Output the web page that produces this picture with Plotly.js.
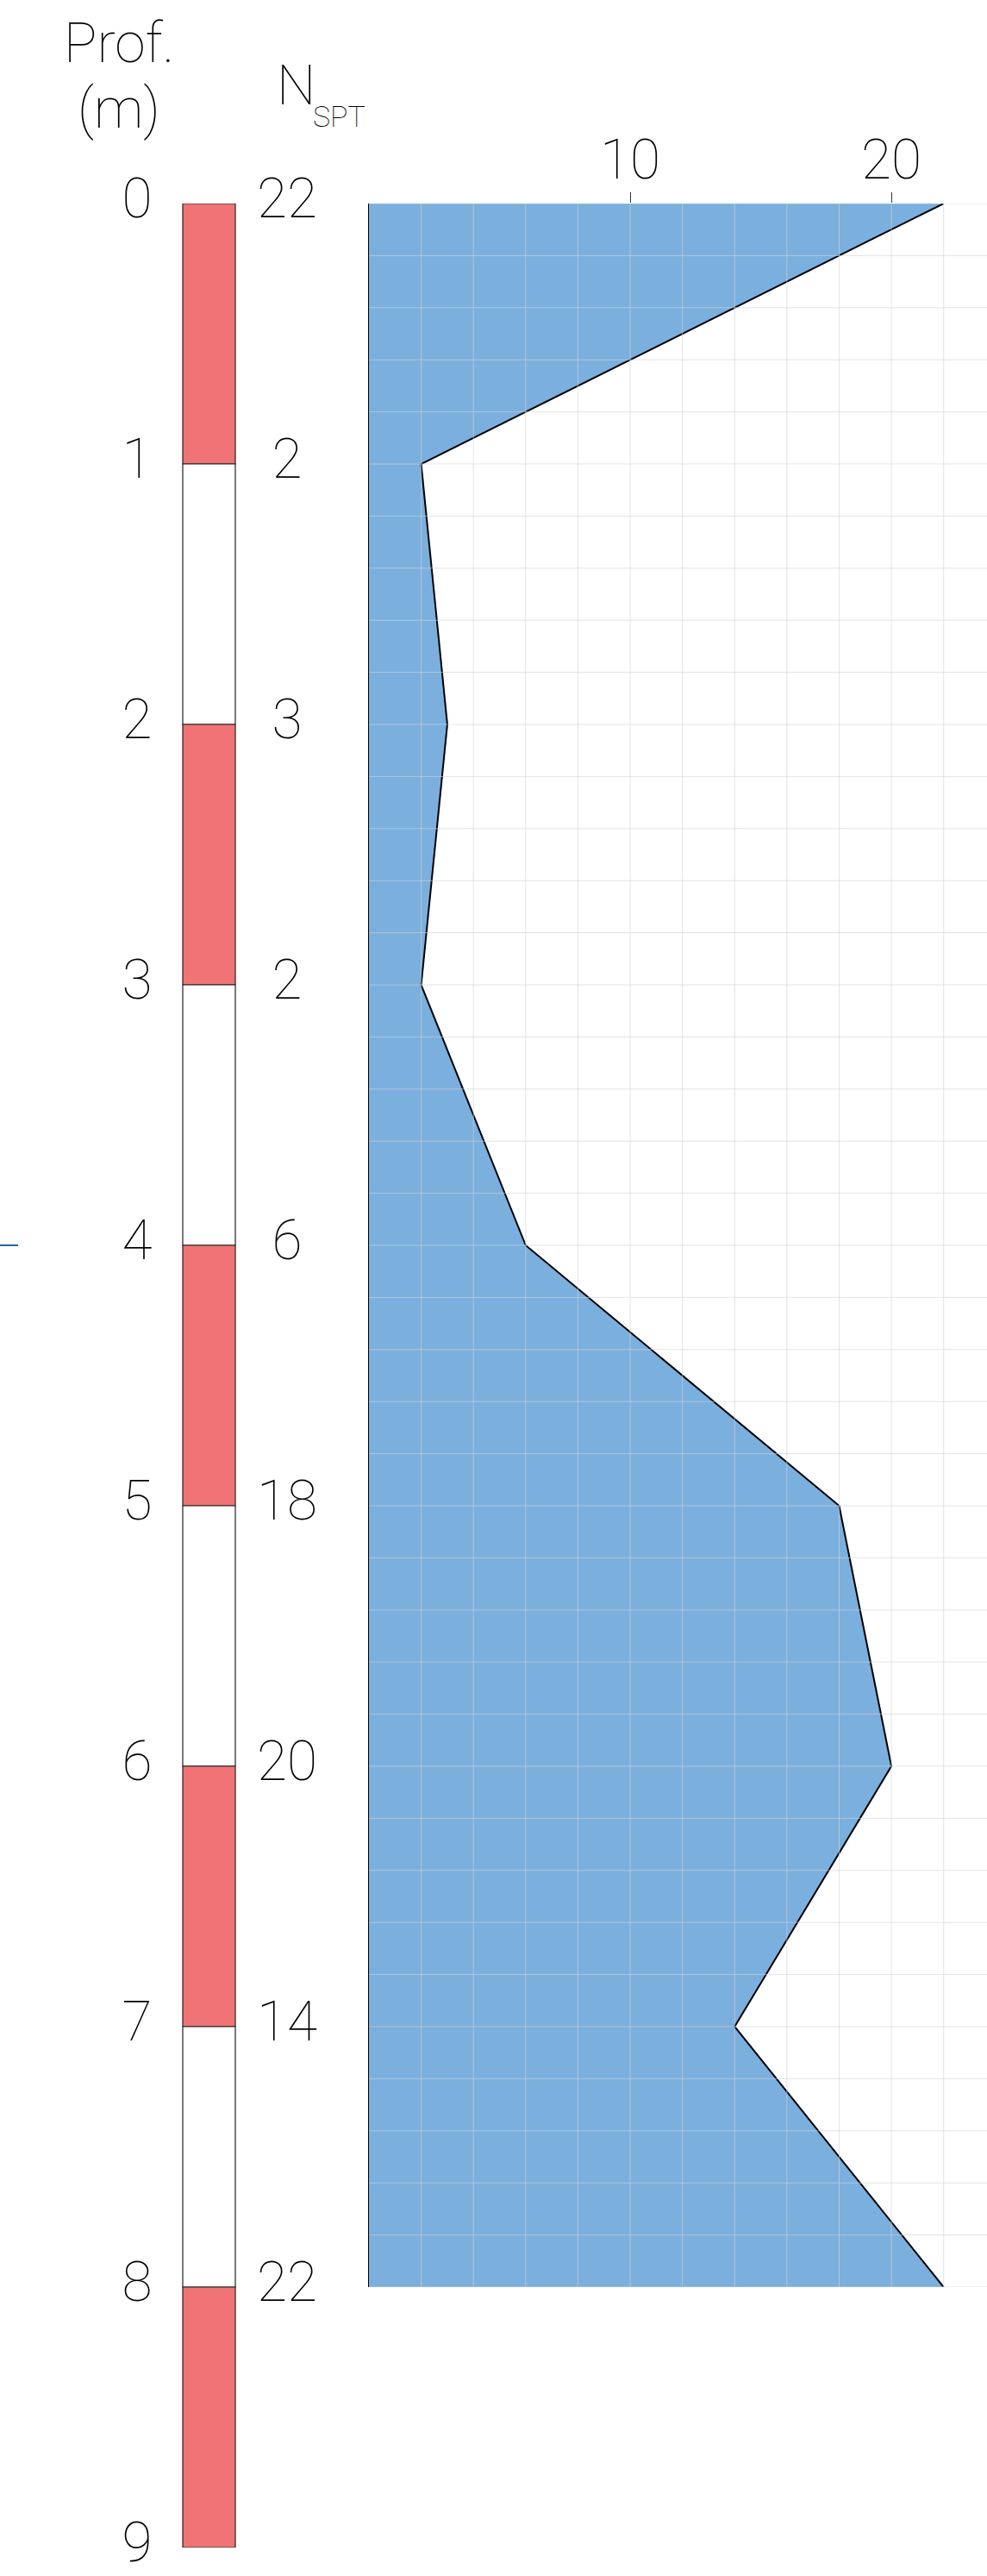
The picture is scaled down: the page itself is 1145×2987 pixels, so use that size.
<!DOCTYPE html>
<html>
<head>
<meta charset="utf-8">
<script src="https://cdn.plot.ly/plotly-3.0.1.min.js"></script>
<style>html,body{margin:0;padding:0;background:#fff;}#chart{width:1145px;height:2987px;}</style>
</head>
<body>
<div id="chart"></div>
<script>
// ---- data ----
const depths = [0, 1, 2, 3, 4, 5, 6, 7, 8];           // m
const nspt   = [22, 2, 3, 2, 6, 18, 20, 14, 22];      // N_SPT
const profTicks = [0, 1, 2, 3, 4, 5, 6, 7, 8, 9];      // depth scale labels (m)
const layerTops = [0, 1, 2, 3, 4, 5, 6, 7, 8];         // top of each 1 m layer
const layerThick = [1, 1, 1, 1, 1, 1, 1, 1, 1];
const layerColors = ['#F07375', '#FFFFFF', '#F07375', '#FFFFFF', '#F07375', '#FFFFFF', '#F07375', '#FFFFFF', '#F07375'];
const xTickVals = [10, 20];
const waterDepth = [4];

// ---- style ----
const FONT = 'Roboto';
const W = 1145, H = 2987, MT = 236, MB = 33;
const paperH = H - MT - MB;
const py = p => (H - MB - p) / paperH;     // page y px -> paper fraction
const px = p => p / W;
const xMax = 23.66;
const txt = {family: FONT, size: 64, color: '#000', weight: 100};

const traces = [
  {
    type: 'scatter', mode: 'lines', x: nspt, y: depths,
    fill: 'tozerox', fillcolor: '#7BAFDE',
    line: {color: '#000', width: 2},
    xaxis: 'x', yaxis: 'y', hoverinfo: 'skip'
  },
  {
    type: 'bar', x: layerTops.map(() => 242.5), y: layerThick, base: layerTops,
    width: 61, marker: {color: layerColors, line: {color: '#222', width: 1.2}},
    xaxis: 'x2', yaxis: 'y2', hoverinfo: 'skip'
  },
  {
    type: 'scatter', mode: 'text', x: profTicks.map(() => 159), y: profTicks,
    text: profTicks.map(String), textposition: 'middle center', textfont: txt,
    cliponaxis: false, xaxis: 'x2', yaxis: 'y2', hoverinfo: 'skip'
  },
  {
    type: 'scatter', mode: 'text', x: depths.map(() => 333), y: depths,
    text: nspt.map(String), textposition: 'middle center', textfont: txt,
    cliponaxis: false, xaxis: 'x2', yaxis: 'y2', hoverinfo: 'skip'
  }
];

const shapes = [];
const gridCol = 'rgba(212,212,212,0.62)';
for (let v = 2; v <= xMax; v += 2) {
  shapes.push({type: 'line', layer: 'above', xref: 'x', yref: 'y domain', x0: v, x1: v, y0: 0, y1: 1,
               line: {color: gridCol, width: 1}});
}
for (let i = 0; i <= 40; i++) {
  const h = Math.round(i * 0.2 * 100) / 100;
  shapes.push({type: 'line', layer: 'above', xref: 'x domain', yref: 'y', x0: 0, x1: 1, y0: h, y1: h,
               line: {color: gridCol, width: 1}});
}
waterDepth.forEach(d => shapes.push({type: 'line', xref: 'paper', yref: 'y', x0: 0, x1: px(21), y0: d, y1: d,
               line: {color: '#2F6395', width: 2}}));

const annotations = [
  {text: 'Prof.', x: px(138), y: py(50), xref: 'paper', yref: 'paper', xanchor: 'center', yanchor: 'middle', showarrow: false, font: txt},
  {text: '(m)', x: px(138), y: py(126), xref: 'paper', yref: 'paper', xanchor: 'center', yanchor: 'middle', showarrow: false, font: txt},
  {text: 'N', x: px(343), y: py(100), xref: 'paper', yref: 'paper', xanchor: 'center', yanchor: 'middle', showarrow: false, font: txt},
  {text: 'SPT', x: px(393), y: py(135), xref: 'paper', yref: 'paper', xanchor: 'center', yanchor: 'middle', showarrow: false,
   font: {family: FONT, size: 34, color: '#000', weight: 100}}
];

const layout = {
  width: W, height: H,
  margin: {l: 0, r: 0, t: MT, b: MB, pad: 0},
  paper_bgcolor: '#fff', plot_bgcolor: 'rgba(0,0,0,0)',
  showlegend: false,
  xaxis: {
    domain: [px(428), 1], range: [0, xMax], side: 'top', anchor: 'y',
    tickmode: 'array', tickvals: xTickVals, ticktext: xTickVals.map(String),
    ticks: 'outside', ticklen: 12, tickwidth: 1, tickcolor: '#333',
    ticklabelstandoff: -10,
    tickfont: txt, showgrid: false, zeroline: false, showline: false
  },
  yaxis: {
    domain: [py(2652), 1], range: [8, 0], anchor: 'x',
    showticklabels: false, ticks: '', showgrid: false, zeroline: false,
    showline: true, linecolor: '#000', linewidth: 1.5
  },
  xaxis2: {domain: [0, px(458)], range: [0, 458], anchor: 'y2', visible: false, fixedrange: true},
  yaxis2: {domain: [0, 1], range: [9, 0], anchor: 'x2', visible: false, fixedrange: true},
  shapes: shapes,
  annotations: annotations
};

Plotly.newPlot('chart', traces, layout, {staticPlot: true, displayModeBar: false});
</script>
</body>
</html>
